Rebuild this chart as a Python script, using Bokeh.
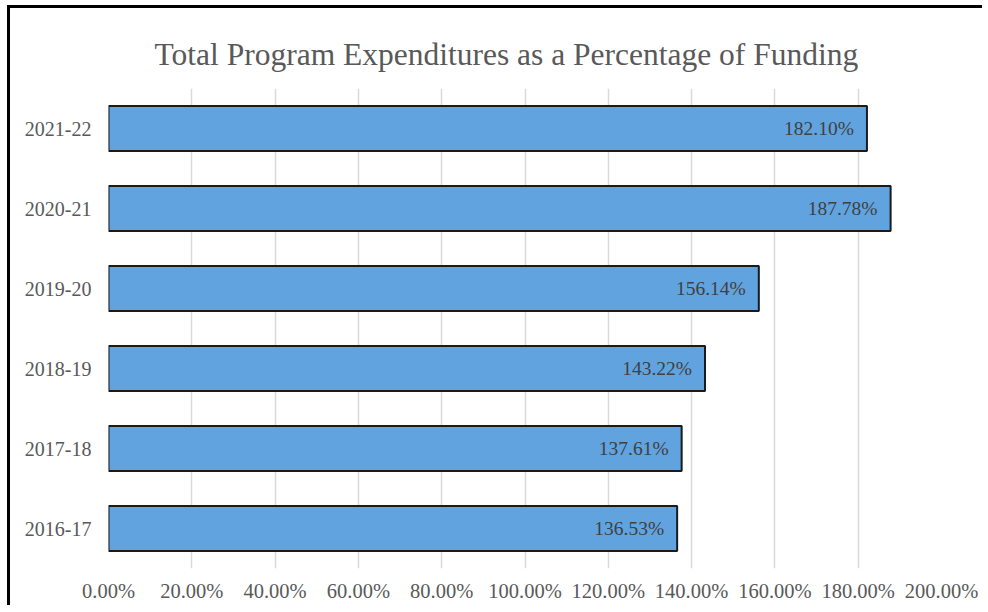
from bokeh.plotting import figure
from bokeh.models import Range1d, FactorRange, ColumnDataSource, FixedTicker, LabelSet, Title, CustomJSTickFormatter
from bokeh.embed import file_html
from bokeh.resources import INLINE

years = ["2016-17", "2017-18", "2018-19", "2019-20", "2020-21", "2021-22"]
pct = [136.53, 137.61, 143.22, 156.14, 187.78, 182.10]
labels = ["136.53%", "137.61%", "143.22%", "156.14%", "187.78%", "182.10%"]
ticks = [0, 20, 40, 60, 80, 100, 120, 140, 160, 180, 200]

src = ColumnDataSource(dict(y=years, v=pct, lab=labels))

p = figure(width=975, height=600, output_backend="svg", toolbar_location=None,
           y_range=FactorRange(*years), x_range=Range1d(0, 200),
           min_border_left=98, min_border_right=44, min_border_bottom=40, min_border_top=80)
p.styles = {"border-left": "3px solid #000", "border-top": "3px solid #000",
            "margin-left": "7px", "margin-top": "5px"}

p.title = Title(text="Total Program Expenditures as a Percentage of Funding", align="left",
                text_font="Liberation Serif", text_font_size="31.5px", text_font_style="normal",
                text_color="#595959", offset=46, standoff=29, vertical_align="top")

p.hbar(y="y", right="v", left=0, height=0.56, source=src,
       fill_color="#60a3df", line_color="#1a1a1a", line_width=2)

p.add_layout(LabelSet(x="v", y="y", text="lab", source=src, x_offset=-13,
                      text_align="right", text_baseline="middle",
                      text_font="Liberation Serif", text_font_size="19.5px", text_color="#404040"))

p.xaxis.ticker = FixedTicker(ticks=ticks)
p.xaxis.formatter = CustomJSTickFormatter(code="return tick.toFixed(2) + '%';")

for ax in (p.xaxis[0], p.yaxis[0]):
    ax.axis_line_color = None
    ax.major_tick_line_color = None
    ax.minor_tick_line_color = None
    ax.major_label_text_font = "Liberation Serif"
    ax.major_label_text_color = "#595959"
p.xaxis.major_label_text_font_size = "20.5px"
p.yaxis.major_label_text_font_size = "20px"
p.xaxis.major_label_standoff = 5
p.yaxis.major_label_standoff = 11

p.xgrid.ticker = FixedTicker(ticks=ticks)
p.xgrid.grid_line_color = "#d9d9d9"
p.xgrid.grid_line_width = 1.5
p.ygrid.grid_line_color = None
p.outline_line_color = None

open("out.html", "w").write(file_html(p, INLINE))
